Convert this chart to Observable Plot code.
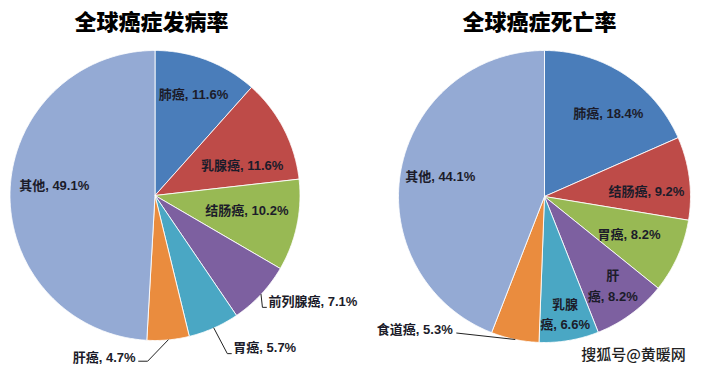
<!DOCTYPE html>
<html>
<head>
<meta charset="utf-8">
<script src="https://cdn.jsdelivr.net/npm/d3@7"></script>
<script src="https://cdn.jsdelivr.net/npm/@observablehq/plot@0.6"></script>
<style>
  html, body { margin: 0; padding: 0; background: #fff; }
  svg { display: block; }
</style>
</head>
<body>
<div id="chart"></div>
<script>
// ---- data ----
const incidenceTitle = "全球癌症发病率";
const incidenceCategories = ["肺癌", "乳腺癌", "结肠癌", "前列腺癌", "胃癌", "肝癌", "其他"];
const incidenceValues = [11.6, 11.6, 10.2, 7.1, 5.7, 4.7, 49.1];
const incidenceColors = ["#4a7dba", "#be4b48", "#98b954", "#7d60a0", "#4aa7c4", "#ea8c3e", "#94aad4"];

const mortalityTitle = "全球癌症死亡率";
const mortalityCategories = ["肺癌", "结肠癌", "胃癌", "肝癌", "乳腺癌", "食道癌", "其他"];
const mortalityValues = [18.4, 9.2, 8.2, 8.2, 6.6, 5.3, 44.1];
const mortalityColors = ["#4a7dba", "#be4b48", "#98b954", "#7d60a0", "#4aa7c4", "#ea8c3e", "#94aad4"];
// label text as shown (line breaks where the chart wraps)
const mortalityLabelNames = ["肺癌", "结肠癌", "胃癌", "肝\n癌", "乳腺\n癌", "食道癌", "其他"];

const watermark = "搜狐号@黄暖网";

// ---- layout (not data) ----
const W = 703, H = 373;
const pies = [
  {title: incidenceTitle, cats: incidenceCategories, names: incidenceCategories, vals: incidenceValues, colors: incidenceColors,
   cx: 154.5, cy: 195, r: 145, titleX: 151,
   // label placement per slice: angle nudge (deg), radius fraction, outside?
   labels: [
     {da: -0.4, f: 0.76, out: false},
     {da: 7.3, f: 0.64, out: false},
     {da: -3.9, f: 0.64, out: false},
     {da: 0, f: 1.07, out: true, anchor: "start"},
     {da: -3.3, f: 1.18, out: true, anchor: "start"},
     {da: 12, f: 1.13, out: true, anchor: "end"},
     {da: 5.2, f: 0.70, out: false}
   ]},
  {title: mortalityTitle, cats: mortalityCategories, names: mortalityLabelNames, vals: mortalityValues, colors: mortalityColors,
   cx: 544, cy: 196, r: 146, titleX: 539,
   labels: [
     {da: 3.6, f: 0.73, out: false},
     {da: 3.2, f: 0.70, out: false},
     {da: -0.9, f: 0.63, out: false},
     {da: -1.6, f: 0.76, out: false},
     {da: -0.3, f: 0.81, out: false},
     {da: 22.8, f: 1.11, out: true, anchor: "end", straight: true},
     {da: 1.3, f: 0.73, out: false}
   ]}
];

const rad = d => d * Math.PI / 180;
const polar = (p, angDeg, rr) => [p.cx + rr * Math.sin(rad(angDeg)), p.cy - rr * Math.cos(rad(angDeg))];

const slicePts = [];
const labelRows = [];
const leaderPts = [];
const titleRows = [];

pies.forEach((p, pi) => {
  const total = d3.sum(p.vals);
  const arcs = d3.pie().sort(null).value(d => d)(p.vals);
  titleRows.push({x: p.titleX, y: 22, text: p.title});
  arcs.forEach((a, i) => {
    const key = pi + "-" + i;
    const a0 = a.startAngle * 180 / Math.PI, a1 = a.endAngle * 180 / Math.PI;
    const pts = [[p.cx, p.cy]];
    const n = Math.max(2, Math.ceil((a1 - a0) / 0.5));
    for (let k = 0; k <= n; k++) pts.push(polar(p, a0 + (a1 - a0) * k / n, p.r));
    pts.push([p.cx, p.cy]);
    pts.forEach(([x, y]) => slicePts.push({key, x, y, color: p.colors[i]}));

    const mid = (a0 + a1) / 2;
    const L = p.labels[i];
    const [lx, ly] = polar(p, mid + L.da, p.r * L.f);
    const text = p.names[i] + ", " + d3.format(".1f")(p.vals[i] / total * 100) + "%";
    labelRows.push({x: lx, y: ly, text, anchor: L.anchor || "middle"});
    if (L.out) {
      const [ex, ey] = polar(p, mid, p.r);
      let path;
      if (L.straight) path = [[ex, ey], [lx + 4, ly + 3]];
      else if (L.anchor === "start") path = [[ex, ey], [lx - 6, ly + 6], [lx - 2, ly + 6]];
      else path = [[ex, ey], [lx + 12, ly + 3], [lx + 3, ly + 3]];
      path.forEach(([x, y]) => leaderPts.push({key, x, y}));
    }
  });
});

const labelFont = "'Liberation Sans', 'Noto Sans CJK SC', sans-serif";
const labelSize = 13;

const chart = Plot.plot({
  width: W,
  height: H,
  margin: 0,
  x: {domain: [0, W], range: [0, W], axis: null},
  y: {domain: [0, H], range: [0, H], axis: null},
  color: {type: "identity"},
  style: {background: "#fff"},
  marks: [
    Plot.line(slicePts, {x: "x", y: "y", z: "key", fill: "color", stroke: "#fff", strokeWidth: 1, strokeOpacity: 0.85, curve: "linear"}),
    Plot.line(leaderPts, {x: "x", y: "y", z: "key", stroke: "#222", strokeWidth: 1, curve: "linear"}),
    Plot.text(labelRows.filter(d => d.anchor === "middle"), {x: "x", y: "y", text: "text", textAnchor: "middle", lineHeight: 1.55,
      fontSize: labelSize, fontWeight: "bold", fontFamily: labelFont, fill: "#1c1c2a"}),
    Plot.text(labelRows.filter(d => d.anchor === "start"), {x: "x", y: "y", text: "text", textAnchor: "start",
      fontSize: labelSize, fontWeight: "bold", fontFamily: labelFont, fill: "#1c1c2a"}),
    Plot.text(labelRows.filter(d => d.anchor === "end"), {x: "x", y: "y", text: "text", textAnchor: "end",
      fontSize: labelSize, fontWeight: "bold", fontFamily: labelFont, fill: "#1c1c2a"}),
    Plot.text(titleRows, {x: "x", y: "y", text: "text", fontSize: 22, fontWeight: 900,
      fontFamily: "'Noto Sans CJK SC', sans-serif", fill: "#000"}),
    Plot.text([watermark], {x: [633], y: [355], text: d => d, fontSize: 15, fontWeight: 500, fontFamily: "'Noto Sans CJK SC', sans-serif",
      fill: "#222", stroke: "#fff", strokeWidth: 3, paintOrder: "stroke"})
  ]
});
document.getElementById("chart").appendChild(chart);
</script>
</body>
</html>
